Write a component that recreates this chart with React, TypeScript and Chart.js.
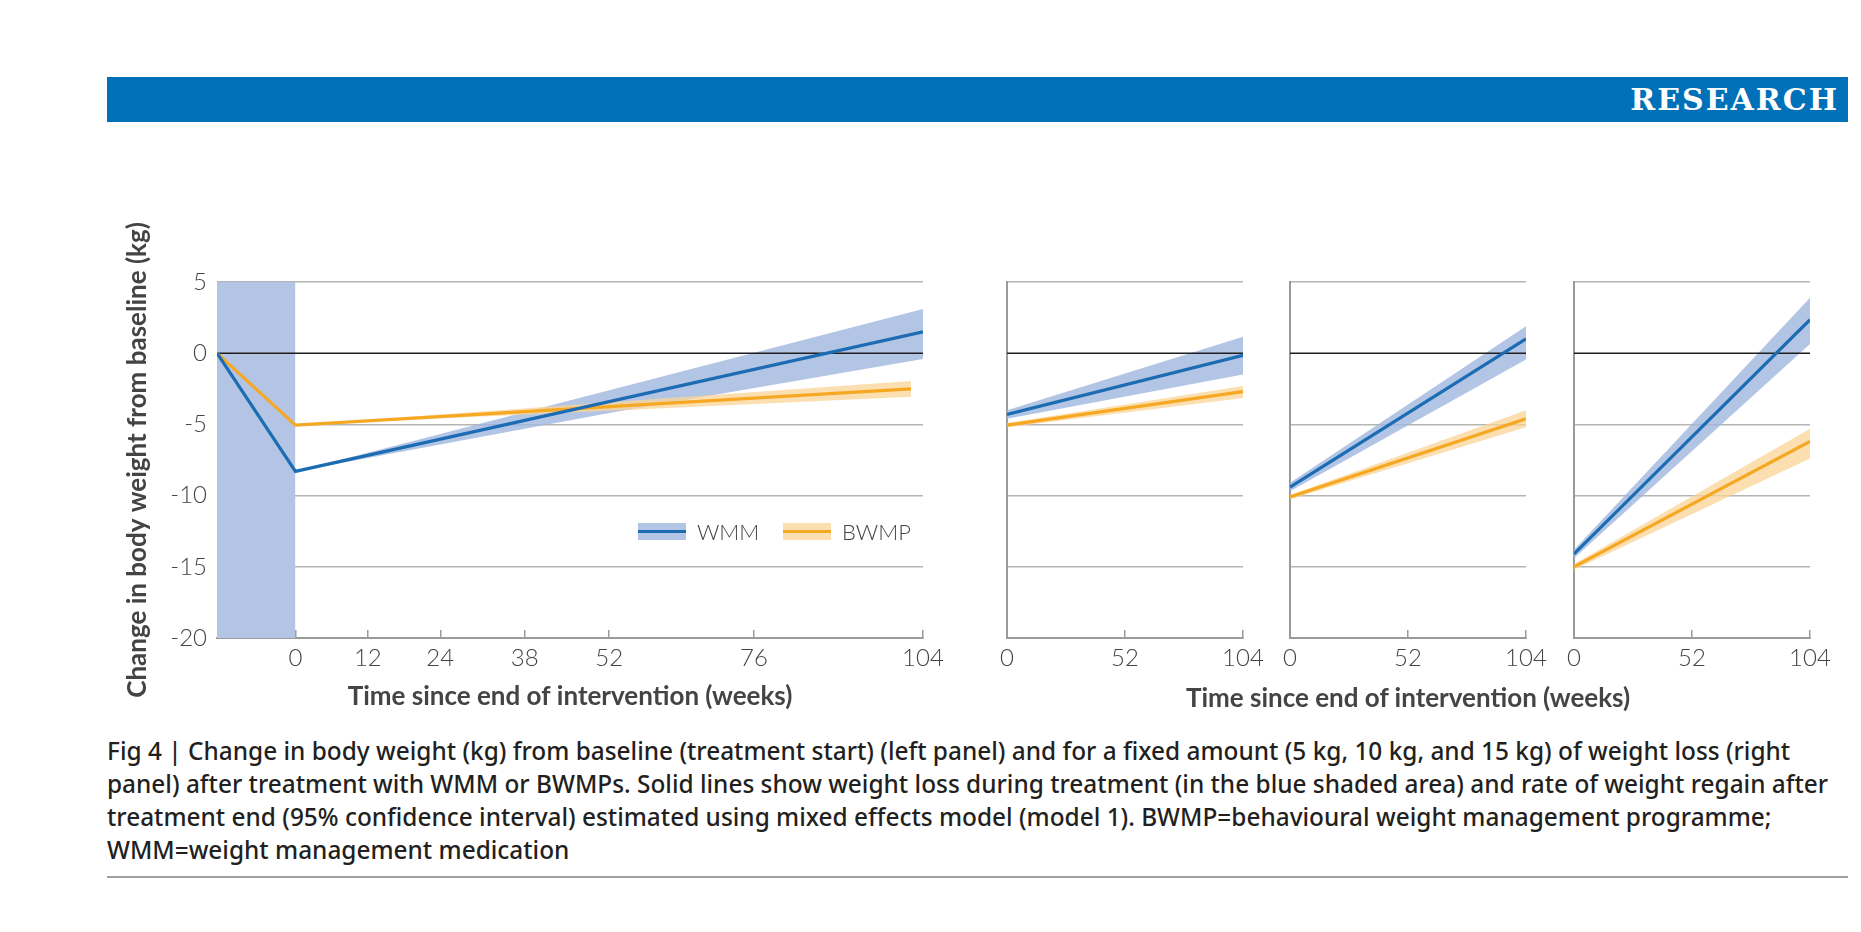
import React, { useEffect, useRef } from 'react';
import { Chart, registerables } from 'chart.js';

Chart.register(...registerables);

// y range shared by all panels
const yMin = -20;
const yMax = 5;
const yStep = 5;

// left panel: from treatment start (weeks before 0 = treatment period)
const treatmentWeeks = [-13, 0];
const leftXTicks = [0, 12, 24, 38, 52, 76, 104];
const leftWmmWeeks = [-13, 0, 104];
const leftWmm = [0, -8.3, 1.5];
const leftWmmCiWeeks = [0, 52, 104];
const leftWmmLow = [-8.3, -4.2, -0.4];
const leftWmmHigh = [-8.3, -2.6, 3.1];
const leftBwmpWeeks = [-13, 0, 102];
const leftBwmp = [0, -5.05, -2.5];
const leftBwmpCiWeeks = [0, 52, 102];
const leftBwmpLow = [-5.05, -4.05, -3.05];
const leftBwmpHigh = [-5.05, -3.45, -1.95];

// right panels: fixed 5, 10, 15 kg weight loss, regain after end of treatment
const regainWeeks = [0, 104];
const panelXTicks = [0, 52, 104];
const wmm5 = [-4.3, -0.15];
const wmm5Low = [-4.6, -1.5];
const wmm5High = [-4.0, 1.15];
const bwmp5 = [-5.05, -2.7];
const bwmp5Low = [-5.2, -3.15];
const bwmp5High = [-4.9, -2.3];
const wmm10 = [-9.4, 1.0];
const wmm10Low = [-9.7, -0.45];
const wmm10High = [-9.1, 1.9];
const bwmp10 = [-10.1, -4.6];
const bwmp10Low = [-10.25, -5.2];
const bwmp10High = [-9.95, -4.0];
const wmm15 = [-14.1, 2.35];
const wmm15Low = [-14.4, 0.65];
const wmm15High = [-13.8, 3.9];
const bwmp15 = [-15.0, -6.2];
const bwmp15Low = [-15.2, -7.4];
const bwmp15High = [-14.8, -5.3];

const WMM = '#1b6cb3';
const WMM_BAND = 'rgba(160,182,222,0.8)';
const BWMP = '#f6a823';
const BWMP_BAND = 'rgba(251,212,150,0.75)';
const TREAT = '#b4c4e4';
const GRID = '#b5b5b5';
const AXIS = '#9a9a9a';
const TEXT = '#444444';

const tickFont = { family: 'Lato, "Open Sans", sans-serif', size: 24, weight: 300 };
const titleFont = { family: 'Lato, "Open Sans", sans-serif', size: 26, weight: 'bold' };

const pts = (xs: number[], ys: number[]) => xs.map((x, i) => ({ x, y: ys[i] }));

const hidden = { borderColor: 'transparent', borderWidth: 0, pointRadius: 0 };

function seriesSets(
    xMin: number,
    wWeeks: number[], w: number[], wCiWeeks: number[], wLo: number[], wHi: number[],
    bWeeks: number[], b: number[], bCiWeeks: number[], bLo: number[], bHi: number[],
) {
    return [
        { ...hidden, data: pts(wCiWeeks, wLo), fill: false, order: 6 },
        { ...hidden, data: pts(wCiWeeks, wHi), fill: '-1', backgroundColor: WMM_BAND, order: 6 },
        { ...hidden, data: pts(bCiWeeks, bLo), fill: false, order: 5 },
        { ...hidden, data: pts(bCiWeeks, bHi), fill: '-1', backgroundColor: BWMP_BAND, order: 5 },
        { data: [{ x: xMin, y: 0 }, { x: 104, y: 0 }], borderColor: '#1e1e1e', borderWidth: 1.5, fill: false, order: 4 },
        { data: pts(bWeeks, b), borderColor: BWMP, borderWidth: 3.2, fill: false, order: 2 },
        { data: pts(wWeeks, w), borderColor: WMM, borderWidth: 3.2, fill: false, order: 1 },
    ];
}

function xScale(min: number, ticks: number[], title?: string) {
    return {
        type: 'linear',
        min,
        max: 104,
        afterBuildTicks: (s: any) => { s.ticks = ticks.map((v) => ({ value: v })); },
        afterFit: (s: any) => { s.height = 74; s.paddingLeft = 0; s.paddingRight = 0; },
        grid: { drawOnChartArea: false, drawTicks: true, tickLength: -8, color: AXIS, lineWidth: 1.5 },
        border: { display: true, color: AXIS, width: 2 },
        ticks: { padding: 14, font: tickFont, color: TEXT, maxRotation: 0 },
        title: title
            ? { display: true, text: title, font: titleFont, color: TEXT, padding: { top: 0, bottom: 0 } }
            : { display: false },
    };
}

function yScale(showLabels: boolean) {
    return {
        min: yMin,
        max: yMax,
        afterFit: (s: any) => { s.width = showLabels ? 95 : 0; s.paddingTop = 0; s.paddingBottom = 0; },
        grid: {
            drawTicks: false,
            lineWidth: 1.5,
            color: (ctx: any) => (ctx.tick && ctx.tick.value === 0 ? 'transparent' : GRID),
        },
        border: { display: !showLabels, color: AXIS, width: 2 },
        ticks: { display: showLabels, stepSize: yStep, padding: 10, font: tickFont, color: TEXT },
        title: showLabels
            ? { display: true, text: 'Change in body weight from baseline (kg)', font: titleFont, color: TEXT, padding: 0 }
            : { display: false },
    };
}

function baseOptions(padding: any, x: any, y: any) {
    return {
        responsive: false,
        animation: false,
        layout: { padding },
        elements: { point: { radius: 0 }, line: { tension: 0 } },
        plugins: { legend: { display: false }, tooltip: { enabled: false } },
        scales: { x, y },
    };
}

const buildLeft = () => ({
    type: 'line',
    data: {
        datasets: [
            {
                ...hidden,
                data: treatmentWeeks.map((x) => ({ x, y: yMax })),
                fill: 'start',
                backgroundColor: TREAT,
                order: 10,
            },
            ...seriesSets(
                treatmentWeeks[0],
                leftWmmWeeks, leftWmm, leftWmmCiWeeks, leftWmmLow, leftWmmHigh,
                leftBwmpWeeks, leftBwmp, leftBwmpCiWeeks, leftBwmpLow, leftBwmpHigh,
            ),
        ],
    },
    options: baseOptions(
        { left: 0, top: 82, right: 22, bottom: 0 },
        xScale(treatmentWeeks[0], leftXTicks, 'Time since end of intervention (weeks)'),
        yScale(true),
    ),
});

const buildPanel = (w: number[], wLo: number[], wHi: number[], b: number[], bLo: number[], bHi: number[]) => () => ({
    type: 'line',
    data: {
        datasets: seriesSets(0, regainWeeks, w, regainWeeks, wLo, wHi, regainWeeks, b, regainWeeks, bLo, bHi),
    },
    options: baseOptions({ left: 12, top: 82, right: 25, bottom: 0 }, xScale(0, panelXTicks), yScale(false)),
});

const build5 = buildPanel(wmm5, wmm5Low, wmm5High, bwmp5, bwmp5Low, bwmp5High);
const build10 = buildPanel(wmm10, wmm10Low, wmm10High, bwmp10, bwmp10Low, bwmp10High);
const build15 = buildPanel(wmm15, wmm15Low, wmm15High, bwmp15, bwmp15Low, bwmp15High);

type PanelProps = { left: number; top: number; width: number; height: number; build: () => any };

const PanelChart: React.FC<PanelProps> = ({ left, top, width, height, build }) => {
    const canvasRef = useRef<HTMLCanvasElement | null>(null);

    useEffect(() => {
        const canvas = canvasRef.current;
        if (!canvas) return;
        const existing = Chart.getChart(canvas);
        if (existing) existing.destroy();
        const chart = new Chart(canvas, build());
        return () => {
            chart.destroy();
        };
    }, [build]);

    return (
        <canvas
            ref={canvasRef}
            width={width}
            height={height}
            style={{ position: 'absolute', left, top, width, height }}
        />
    );
};

const LegendItem: React.FC<{ left: number; line: string; band: string; label: string }> = ({ left, line, band, label }) => (
    <div style={{ position: 'absolute', left, top: 517, height: 28, display: 'flex', alignItems: 'center' }}>
        <div style={{ width: 48, height: 17, background: band, position: 'relative' }}>
            <div style={{ position: 'absolute', left: 0, right: 0, top: 7, height: 3.5, background: line }} />
        </div>
        <span style={{ marginLeft: 11, font: '300 22px Lato, "Open Sans", sans-serif', color: TEXT }}>{label}</span>
    </div>
);

const App: React.FC = () => {
    // canvases start above the plot so the rotated y title fits
    const chartTop = 200;
    const chartHeight = 512;
    return (
        <div style={{ position: 'absolute', left: 0, top: 0, width: 1861, height: 932, background: '#fff', overflow: 'hidden' }}>
            <div
                style={{
                    position: 'absolute', left: 107, top: 77, width: 1741, height: 45, background: '#0070b8',
                    display: 'flex', alignItems: 'center', justifyContent: 'flex-end', boxSizing: 'border-box', paddingRight: 9,
                }}
            >
                <span style={{ color: '#fff', font: 'bold 30px "DejaVu Serif", serif', letterSpacing: 2 }}>RESEARCH</span>
            </div>

            <PanelChart left={122} top={chartTop} width={823} height={chartHeight} build={buildLeft} />
            <PanelChart left={995} top={chartTop} width={273} height={chartHeight} build={build5} />
            <PanelChart left={1278} top={chartTop} width={273} height={chartHeight} build={build10} />
            <PanelChart left={1562} top={chartTop} width={273} height={chartHeight} build={build15} />

            <LegendItem left={638} line={WMM} band={WMM_BAND} label="WMM" />
            <LegendItem left={783} line={BWMP} band={BWMP_BAND} label="BWMP" />

            <div
                style={{
                    position: 'absolute', left: 1058, width: 700, top: 681, textAlign: 'center',
                    font: 'bold 26px Lato, "Open Sans", sans-serif', color: TEXT, lineHeight: '32px',
                }}
            >
                Time since end of intervention (weeks)
            </div>

            <div
                style={{
                    position: 'absolute', left: 107, top: 734, whiteSpace: 'nowrap',
                    font: '500 24.4px "Noto Sans", "Open Sans", sans-serif', lineHeight: '33px', color: '#231f20',
                }}
            >
                Fig 4 | Change in body weight (kg) from baseline (treatment start) (left panel) and for a fixed amount (5 kg, 10 kg, and 15 kg) of weight loss (right
                <br />
                panel) after treatment with WMM or BWMPs. Solid lines show weight loss during treatment (in the blue shaded area) and rate of weight regain after
                <br />
                treatment end (95% confidence interval) estimated using mixed effects model (model 1). BWMP=behavioural weight management programme;
                <br />
                WMM=weight management medication
            </div>

            <div style={{ position: 'absolute', left: 107, top: 876, width: 1741, height: 2, background: '#a0a0a0' }} />
        </div>
    );
};

export default App;
